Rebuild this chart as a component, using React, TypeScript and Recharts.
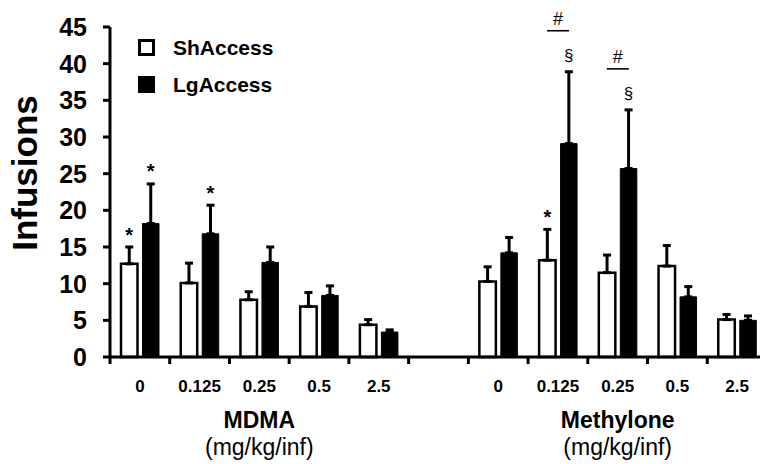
import React from "react";
import { Bar, BarChart, ErrorBar, LabelList, Legend, XAxis, YAxis } from "recharts";

const FONT = '"Liberation Sans", Arial, sans-serif';

const doses = ["0", "0.125", "0.25", "0.5", "2.5"];
const seriesNames = ["ShAccess", "LgAccess"];
const unitLabel = "(mg/kg/inf)";
const yTicks = [0, 5, 10, 15, 20, 25, 30, 35, 40, 45];

// MDMA
const mdmaSh = [12.7, 10.1, 7.8, 6.9, 4.4];
const mdmaShSem = [2.3, 2.7, 1.1, 1.9, 0.7];
const mdmaLg = [18.2, 16.8, 12.9, 8.4, 3.4];
const mdmaLgSem = [5.4, 3.9, 2.1, 1.3, 0.3];
const mdmaShMarks = ["*", "", "", "", ""];
const mdmaLgMarks = ["*", "*", "", "", ""];
const mdmaHash = ["", "", "", "", ""];

// Methylone
const methSh = [10.3, 13.2, 11.5, 12.4, 5.1];
const methShSem = [2.0, 4.2, 2.4, 2.8, 0.7];
const methLg = [14.2, 29.1, 25.7, 8.2, 5.0];
const methLgSem = [2.1, 9.8, 8.0, 1.4, 0.6];
const methShMarks = ["", "*", "", "", ""];
const methLgMarks = ["", "§", "§", "", ""];
const methHash = ["", "#", "#", "", ""];

const BAR_SIZE = 16.5;
const BAR_GAP = 5;

type Row = {
  key: string;
  dose: string;
  drug: string;
  sh: number | null;
  lg: number | null;
  shErr: [number, number] | null;
  lgErr: [number, number] | null;
  shMark: string;
  lgMark: string;
  hash: string;
};

const block = (
  drug: string,
  sh: number[],
  shSem: number[],
  lg: number[],
  lgSem: number[],
  shMarks: string[],
  lgMarks: string[],
  hash: string[]
): Row[] =>
  doses.map((dose, i) => ({
    key: `${drug}-${dose}`,
    dose,
    drug,
    sh: sh[i],
    lg: lg[i],
    shErr: [0, shSem[i]],
    lgErr: [0, lgSem[i]],
    shMark: shMarks[i],
    lgMark: lgMarks[i],
    hash: hash[i],
  }));

const rows: Row[] = [
  ...block("MDMA", mdmaSh, mdmaShSem, mdmaLg, mdmaLgSem, mdmaShMarks, mdmaLgMarks, mdmaHash),
  { key: "gap", dose: "", drug: "", sh: null, lg: null, shErr: null, lgErr: null, shMark: "", lgMark: "", hash: "" },
  ...block("Methylone", methSh, methShSem, methLg, methLgSem, methShMarks, methLgMarks, methHash),
];

// stars / § / # sit above the top of the error bar
function markRenderer(series: "sh" | "lg") {
  return (props: any) => {
    const vb = props.viewBox ?? props;
    const { x, y, width, height } = vb;
    const row = rows.find((r) => r.key === props.value);
    if (!row) return null;
    const value = row[series];
    const err = series === "sh" ? row.shErr : row.lgErr;
    const mark = series === "sh" ? row.shMark : row.lgMark;
    if (value == null || !err || (!mark && !row.hash)) return null;
    const errTop = y - (err[1] * height) / value;
    const cx = x + width / 2;
    const pairCx = x - BAR_GAP / 2;
    return (
      <g>
        {mark === "*" && (
          <text x={cx} y={errTop - 5.5} textAnchor="middle" fontSize={20} fontWeight={700} fontFamily={FONT} fill="#000">
            *
          </text>
        )}
        {mark === "§" && (
          <text x={cx} y={errTop - 10.5} textAnchor="middle" fontSize={17} fontFamily={FONT} fill="#000">
            §
          </text>
        )}
        {series === "lg" && row.hash && (
          <g>
            <line x1={pairCx - 11} x2={pairCx + 11} y1={errTop - 41} y2={errTop - 41} stroke="#000" strokeWidth={1.6} />
            <text x={pairCx} y={errTop - 47} textAnchor="middle" fontSize={18} fontFamily={FONT} fill="#000">
              {row.hash}
            </text>
          </g>
        )}
      </g>
    );
  };
}

function DoseTick(props: any) {
  const { x, y, payload, index } = props;
  const row = rows.find((r) => r.key === payload.value);
  const half = payload.offset > 0 ? payload.offset : (props.width ?? 657) / rows.length / 2;
  return (
    <g>
      <line x1={x - half} x2={x - half} y1={y} y2={y + 7} stroke="#000" strokeWidth={3} />
      {index === rows.length - 1 && (
        <line x1={x + half} x2={x + half} y1={y} y2={y + 7} stroke="#000" strokeWidth={3} />
      )}
      {row && row.dose && (
        <text x={x} y={y + 35} textAnchor="middle" fontSize={17} fontWeight={700} fontFamily={FONT} fill="#000">
          {row.dose}
        </text>
      )}
      {row && row.dose === "0.25" && (
        <g>
          <text x={x} y={y + 71} textAnchor="middle" fontSize={23} fontWeight={700} fontFamily={FONT} fill="#000">
            {row.drug}
          </text>
          <text x={x} y={y + 98} textAnchor="middle" fontSize={23} fontFamily={FONT} fill="#000">
            {unitLabel}
          </text>
        </g>
      )}
    </g>
  );
}

function YLabel(props: any) {
  const vb = props.viewBox;
  const cx = vb.x + 37;
  const cy = vb.y + vb.height / 2 - 19;
  return (
    <text
      x={cx}
      y={cy}
      transform={`rotate(-90, ${cx}, ${cy})`}
      textAnchor="middle"
      fontSize={35}
      fontWeight={700}
      fontFamily={FONT}
      fill="#000"
    >
      Infusions
    </text>
  );
}

function LegendBox(props: any) {
  const payload = [...(props.payload ?? [])].sort(
    (a: any, b: any) => seriesNames.indexOf(a.value) - seriesNames.indexOf(b.value)
  );
  return (
    <div>
      {payload.map((entry: any) => (
        <div key={entry.value} style={{ display: "flex", alignItems: "center", height: 37 }}>
          <span
            style={{
              boxSizing: "border-box",
              width: 17,
              height: 17,
              border: "3px solid #000",
              background: entry.payload?.fill ?? entry.color,
            }}
          />
          <span style={{ marginLeft: 18, fontFamily: FONT, fontWeight: 700, fontSize: 21, lineHeight: 1, color: "#000" }}>
            {entry.value}
          </span>
        </div>
      ))}
    </div>
  );
}

export default function App() {
  return (
    <div style={{ position: "absolute", left: 0, top: 0, width: 760, height: 464, overflow: "hidden", background: "#fff" }}>
      <BarChart
        width={780}
        height={464}
        data={rows}
        margin={{ top: 27, right: 13, bottom: 0, left: 0 }}
        barSize={BAR_SIZE}
        barGap={BAR_GAP}
      >
        <XAxis
          dataKey="key"
          height={107}
          interval={0}
          axisLine={{ stroke: "#000", strokeWidth: 3 }}
          tickLine={false}
          tickSize={0}
          tickMargin={0}
          tick={<DoseTick />}
        />
        <YAxis
          width={110}
          domain={[0, 45]}
          ticks={yTicks}
          interval={0}
          axisLine={{ stroke: "#000", strokeWidth: 3 }}
          tickLine={{ stroke: "#000", strokeWidth: 3 }}
          tickSize={7}
          tickMargin={16}
          tick={{ fill: "#000", fontSize: 25, fontWeight: 700, fontFamily: FONT }}
          label={{ content: YLabel }}
        />
        <Legend
          layout="vertical"
          align="center"
          verticalAlign="middle"
          wrapperStyle={{ left: 138, top: 29, width: 200 }}
          content={LegendBox}
        />
        <Bar dataKey="sh" name="ShAccess" fill="#fff" stroke="#000" strokeWidth={2.5} isAnimationActive={false}>
          <ErrorBar dataKey="shErr" direction="y" width={4} strokeWidth={3} stroke="#000" />
          <LabelList dataKey="key" content={markRenderer("sh")} />
        </Bar>
        <Bar dataKey="lg" name="LgAccess" fill="#000" stroke="#000" strokeWidth={1} isAnimationActive={false}>
          <ErrorBar dataKey="lgErr" direction="y" width={4} strokeWidth={3} stroke="#000" />
          <LabelList dataKey="key" content={markRenderer("lg")} />
        </Bar>
      </BarChart>
    </div>
  );
}
